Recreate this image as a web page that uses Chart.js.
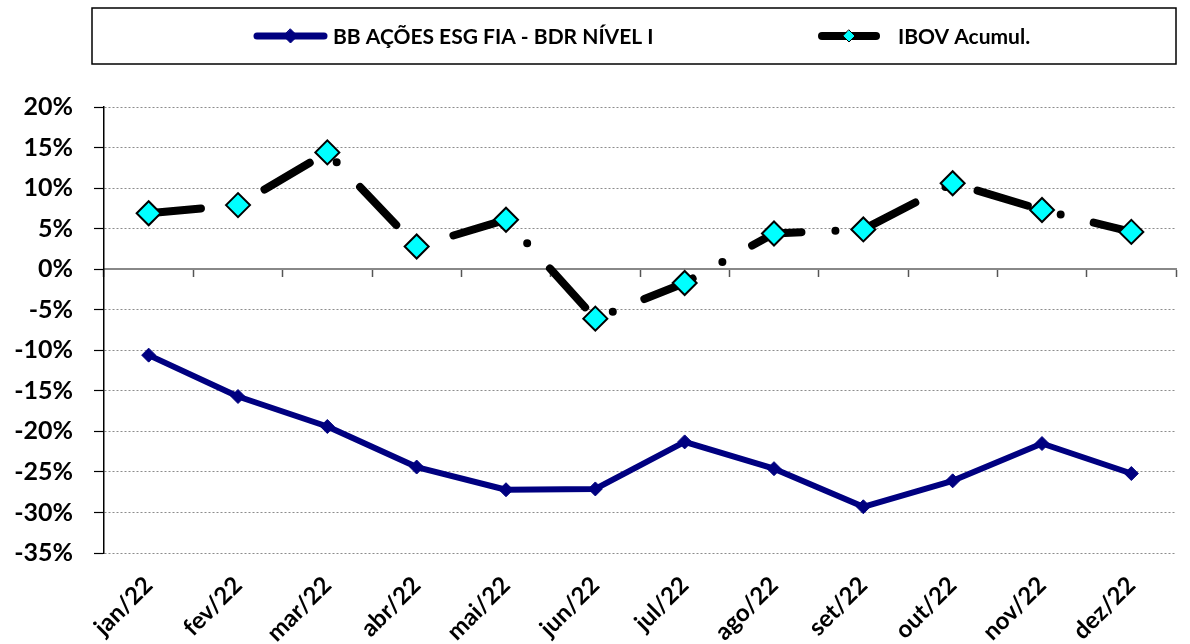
<!DOCTYPE html>
<html>
<head>
<meta charset="utf-8">
<script src="https://cdn.jsdelivr.net/npm/chart.js@4.4.0/dist/chart.umd.min.js"></script>
<style>
html, body { margin: 0; padding: 0; background: #fff; }
</style>
</head>
<body>
<canvas id="chart" width="1190" height="644"></canvas>
<script>
var months = ['jan/22', 'fev/22', 'mar/22', 'abr/22', 'mai/22', 'jun/22',
              'jul/22', 'ago/22', 'set/22', 'out/22', 'nov/22', 'dez/22'];
var bbValues = [-10.6, -15.7, -19.4, -24.4, -27.2, -27.1, -21.3, -24.6, -29.3, -26.1, -21.5, -25.2];
var ibovValues = [6.9, 7.9, 14.4, 2.8, 6.1, -6.1, -1.7, 4.4, 4.9, 10.6, 7.3, 4.6];
var seriesNames = ['BB AÇÕES ESG FIA - BDR NÍVEL I', 'IBOV Acumul.'];
var yMin = -35, yMax = 20, yStep = 5;

// legend drawn by hand: box with line sample + diamond + text
var legendBox = {
    id: 'legendBox',
    afterDraw: function(chart) {
        let ctx = chart.ctx;
        let area = chart.chartArea;
        let left = area.left - 12, right = area.right, top = 8, bottom = 64;
        let y = (top + bottom) / 2;
        let slots = [{ x: 253, w: 75, tx: 333 }, { x: 818, w: 62, tx: 898 }];

        ctx.save();
        ctx.strokeStyle = '#000';
        ctx.lineWidth = 1.5;
        ctx.strokeRect(left, top, right - left, bottom - top);

        chart.data.datasets.forEach(function(ds, i) {
            let s = slots[i];
            ctx.setLineDash([]);
            ctx.lineCap = 'round';
            ctx.strokeStyle = ds.borderColor;
            ctx.lineWidth = ds.legendLineWidth;
            ctx.beginPath();
            ctx.moveTo(s.x + 4, y);
            ctx.lineTo(s.x + s.w - 4, y);
            ctx.stroke();

            let cx = s.x + s.w / 2, r = ds.legendMarker;
            ctx.beginPath();
            ctx.moveTo(cx, y - r);
            ctx.lineTo(cx + r, y);
            ctx.lineTo(cx, y + r);
            ctx.lineTo(cx - r, y);
            ctx.closePath();
            ctx.fillStyle = ds.pointBackgroundColor;
            ctx.fill();
            ctx.lineWidth = 1;
            ctx.strokeStyle = ds.pointBorderColor;
            ctx.stroke();

            ctx.fillStyle = '#000';
            ctx.font = 'bold 21px Lato';
            ctx.textBaseline = 'middle';
            ctx.textAlign = 'left';
            ctx.fillText(ds.label, s.tx, y + 1);
        });
        ctx.restore();
    }
};

var ctx = document.getElementById('chart');
var chart = new Chart(ctx, {
    type: 'line',
    data: {
        labels: months,
        datasets: [
            {
                label: seriesNames[0],
                data: bbValues,
                borderColor: '#000080',
                backgroundColor: '#000080',
                borderWidth: 6,
                borderJoinStyle: 'round',
                pointStyle: 'rectRot',
                pointRadius: 7,
                pointBackgroundColor: '#000080',
                pointBorderColor: '#000080',
                pointBorderWidth: 1,
                tension: 0,
                legendLineWidth: 7,
                legendMarker: 7
            },
            {
                label: seriesNames[1],
                data: ibovValues,
                borderColor: '#000000',
                backgroundColor: '#00ffff',
                borderWidth: 8,
                borderDash: [52.5, 34, 0, 34],
                borderCapStyle: 'round',
                borderJoinStyle: 'round',
                pointStyle: 'rectRot',
                pointRadius: 12,
                pointBackgroundColor: '#00ffff',
                pointBorderColor: '#000000',
                pointBorderWidth: 2,
                tension: 0,
                legendLineWidth: 8,
                legendMarker: 6
            }
        ]
    },
    options: {
        responsive: false,
        animation: false,
        layout: { padding: { top: 107, left: 0, right: 10, bottom: 0 } },
        plugins: {
            legend: { display: false },
            tooltip: { enabled: false }
        },
        scales: {
            x: {
                type: 'category',
                offset: true,
                position: 'bottom',
                grid: { display: false },
                border: { display: false },
                ticks: {
                    minRotation: 45,
                    maxRotation: 45,
                    padding: 10,
                    color: '#000',
                    font: { family: 'Lato', size: 24, weight: 'bold' }
                },
                afterFit: function(scale) { scale.height = 91; }
            },
            x2: {
                type: 'category',
                offset: true,
                position: { y: 0 },
                grid: {
                    offset: true,
                    drawOnChartArea: false,
                    drawTicks: true,
                    tickLength: 7,
                    tickColor: '#555',
                    tickWidth: 1.5
                },
                border: { display: true, color: '#888', width: 2 },
                ticks: { display: false }
            },
            y: {
                min: yMin,
                max: yMax,
                ticks: {
                    stepSize: yStep,
                    padding: 21,
                    color: '#000',
                    font: { family: 'Lato', size: 25, weight: 'bold' },
                    callback: function(v) { return v + '%'; }
                },
                grid: {
                    color: '#8c8c8c',
                    lineWidth: 1,
                    tickLength: 10,
                    tickColor: '#000',
                    tickWidth: 1.2,
                    tickBorderDash: []
                },
                border: { display: true, color: '#000', width: 1.5, dash: [2, 2] },
                afterFit: function(scale) { scale.width = 104; }
            }
        }
    },
    plugins: [legendBox]
});
</script>
</body>
</html>
